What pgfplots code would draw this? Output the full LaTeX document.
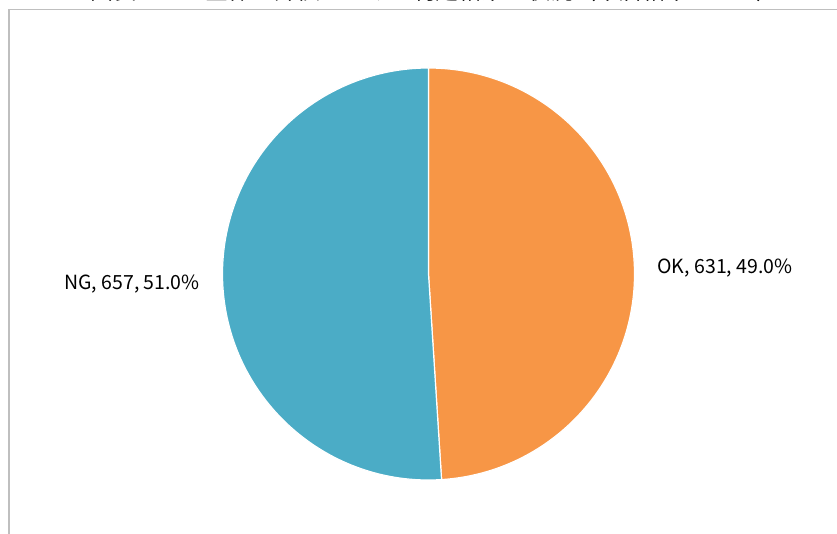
\documentclass[border=0pt]{standalone}
\usepackage{pgfplots}
\pgfplotsset{compat=1.18}
\usepackage{fontspec}
\setmainfont{Noto Sans CJK JP}
\definecolor{okc}{HTML}{F79646}
\definecolor{ngc}{HTML}{4BACC6}
\definecolor{bord}{HTML}{BFBFBF}
\begin{document}
\begin{tikzpicture}
\clip (0,0) rectangle (837bp,534bp);
\begin{axis}[x=1bp,y=1bp,xmin=0,xmax=837,ymin=0,ymax=534,
  hide axis, scale only axis, anchor=origin, at={(0,0)},
  clip=false]
\pgfmathsetmacro{\ok}{631}
\pgfmathsetmacro{\ng}{657}
\pgfmathsetmacro{\tot}{\ok+\ng}
\pgfmathsetmacro{\aok}{\ok/\tot*360}
% chart area border
\draw[bord, line width=1.5bp] (axis cs:9,-20) -- (axis cs:9,524.5) -- (axis cs:860,524.5);
% slices
\fill[okc, draw=white, line width=1.2bp] (axis cs:428.5,260) -- ++(90:206bp) arc[start angle=90, end angle={90-\aok}, radius=206bp] -- cycle;
\fill[ngc, draw=white, line width=1.2bp] (axis cs:428.5,260) -- ++({90-\aok}:206bp) arc[start angle={90-\aok}, end angle=-270, radius=206bp] -- cycle;
% labels
\node[font=\fontsize{19.5bp}{22bp}\selectfont] at (axis cs:132,250) {NG, 657, 51.0\%};
\node[font=\fontsize{19.5bp}{22bp}\selectfont] at (axis cs:725,266) {OK, 631, 49.0\%};
% title (cut off at top of the picture)
\node[font=\fontsize{23bp}{26bp}\selectfont, anchor=base] at (axis cs:435,534) {図表　　　全体の評価における判定結果の状況（本店結果ベース）};
\end{axis}
\end{tikzpicture}
\end{document}
